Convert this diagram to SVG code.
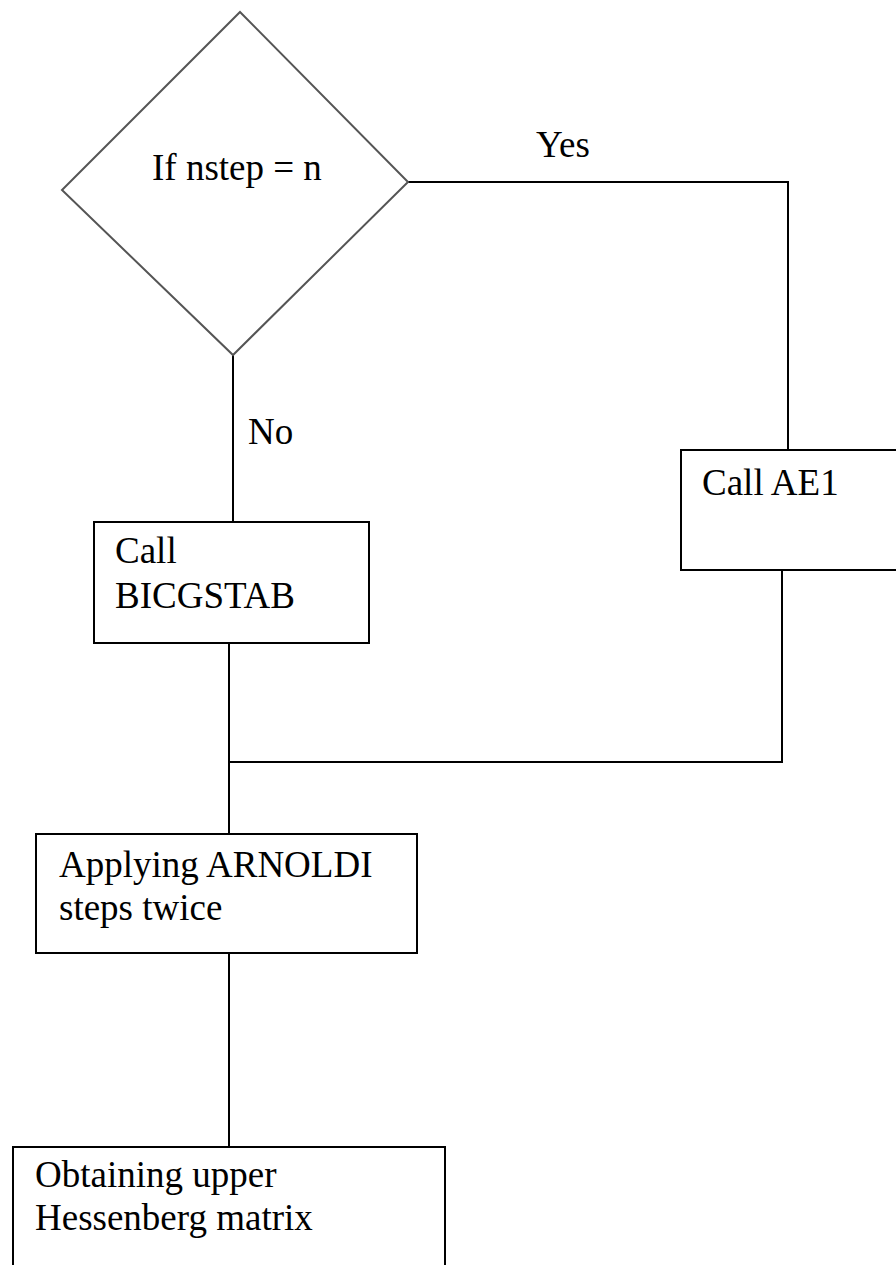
<svg xmlns="http://www.w3.org/2000/svg" width="896" height="1265" viewBox="0 0 896 1265">
<style>
.shape{fill:#ffffff;stroke:#000000;stroke-width:2}
.diam{fill:#ffffff;stroke:#555555;stroke-width:2}
.conn{fill:none;stroke:#000000;stroke-width:2}
text{font-family:"Liberation Serif","Times New Roman",serif;font-size:37px;fill:#000000}
</style>
<rect width="896" height="1265" fill="#ffffff"/>
<g id="connectors">
<polyline class="conn" points="408,182 788,182 788,450"/>
<line class="conn" x1="233" y1="355" x2="233" y2="522"/>
<line class="conn" x1="229" y1="643" x2="229" y2="834"/>
<polyline class="conn" points="782,570 782,762 229,762"/>
<line class="conn" x1="229" y1="953" x2="229" y2="1147"/>
<text x="536" y="157">Yes</text>
<text x="248" y="444">No</text>
</g>
<g id="decision">
<polygon class="diam" points="240,12 408,182 233,355 62,190"/>
<text x="152" y="180">If nstep = n</text>
</g>
<g id="ae1">
<rect class="shape" x="681" y="450" width="230" height="120"/>
<text x="702" y="495">Call AE1</text>
</g>
<g id="bicgstab">
<rect class="shape" x="94" y="522" width="275" height="121"/>
<text x="115" y="563">Call</text>
<text x="115" y="608">BICGSTAB</text>
</g>
<g id="arnoldi">
<rect class="shape" x="36" y="834" width="381" height="119"/>
<text x="59" y="877">Applying ARNOLDI</text>
<text x="59" y="920">steps twice</text>
</g>
<g id="hessenberg">
<rect class="shape" x="13" y="1147" width="432" height="140"/>
<text x="35" y="1187">Obtaining upper</text>
<text x="35" y="1230">Hessenberg matrix</text>
</g>
</svg>
